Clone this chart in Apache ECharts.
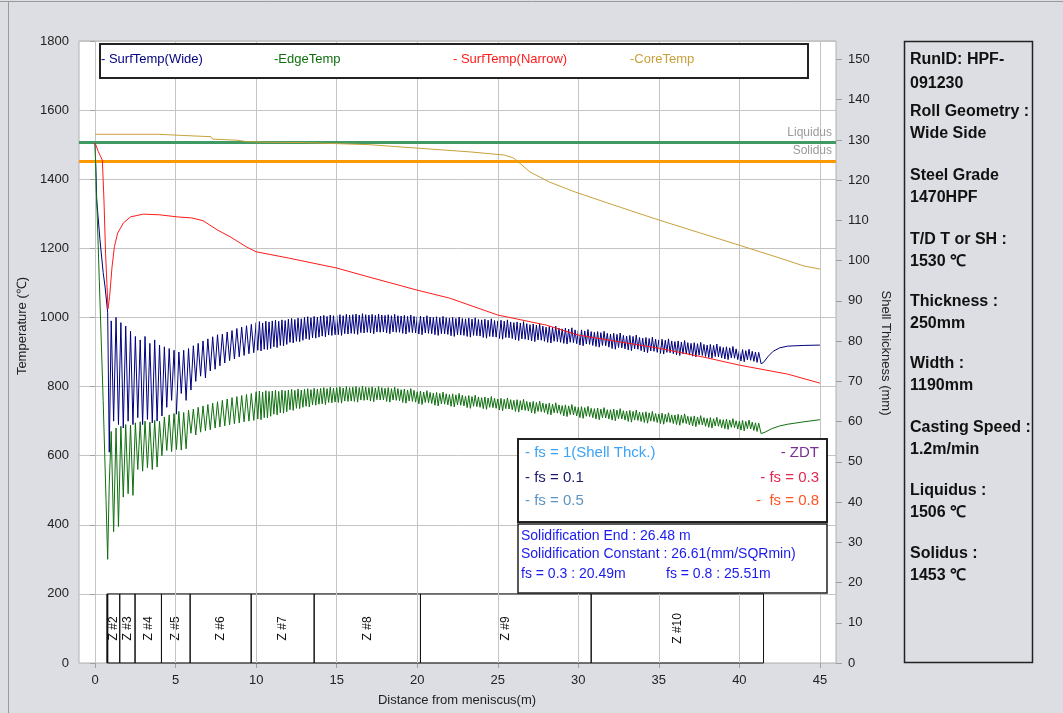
<!DOCTYPE html>
<html><head><meta charset="utf-8">
<script src="https://cdn.jsdelivr.net/npm/echarts@6/dist/echarts.min.js"></script>
<style>html,body{margin:0;padding:0;background:#dcdee3}#c{width:1063px;height:713px}</style>
</head><body><div id="c"></div>
<script>
// ---------- data ----------
const xTicks = [0,5,10,15,20,25,30,35,40,45];
const shellTicks = [0,10,20,30,40,50,60,70,80,90,100,110,120,130,140,150];
const liquidus = 1506;
const solidus = 1453;

const toothXEarly = [1,1.15,1.3,1.45,1.6,1.75,1.9,2.05,2.2,2.35,
 2.5,2.65,2.8,2.95,3.1,3.25,3.4,3.55,3.7,3.85,
 4,4.15,4.3,4.45,4.6,4.75,4.9,5.05,5.2,5.35,
 5.5,5.65,5.8,5.95,6.1,6.25,6.4,6.55,6.7,6.85,
 7,7.15,7.3,7.45,7.6,7.75,7.9,8.05,8.2,8.35,
 8.5,8.65,8.8,8.95,9.1,9.25,9.4,9.55,9.7,9.85];
const toothXLate = [
 10,10.1,10.2,10.3,10.4,10.5,10.6,10.7,10.8,10.9,
 11,11.1,11.2,11.3,11.4,11.5,11.6,11.7,11.8,11.9,
 12,12.1,12.2,12.3,12.4,12.5,12.6,12.7,12.8,12.9,
 13,13.1,13.2,13.3,13.4,13.5,13.6,13.7,13.8,13.9,
 14,14.1,14.2,14.3,14.4,14.5,14.6,14.7,14.8,14.9,
 15,15.1,15.2,15.3,15.4,15.5,15.6,15.7,15.8,15.9,
 16,16.1,16.2,16.3,16.4,16.5,16.6,16.7,16.8,16.9,
 17,17.1,17.2,17.3,17.4,17.5,17.6,17.7,17.8,17.9,
 18,18.1,18.2,18.3,18.4,18.5,18.6,18.7,18.8,18.9,
 19,19.1,19.2,19.3,19.4,19.5,19.6,19.7,19.8,19.9,
 20,20.1,20.2,20.3,20.4,20.5,20.6,20.7,20.8,20.9,
 21,21.1,21.2,21.3,21.4,21.5,21.6,21.7,21.8,21.9,
 22,22.1,22.2,22.3,22.4,22.5,22.6,22.7,22.8,22.9,
 23,23.1,23.2,23.3,23.4,23.5,23.6,23.7,23.8,23.9,
 24,24.1,24.2,24.3,24.4,24.5,24.6,24.7,24.8,24.9,
 25,25.1,25.2,25.3,25.4,25.5,25.6,25.7,25.8,25.9,
 26,26.1,26.2,26.3,26.4,26.5,26.6,26.7,26.8,26.9,
 27,27.1,27.2,27.3,27.4,27.5,27.6,27.7,27.8,27.9,
 28,28.1,28.2,28.3,28.4,28.5,28.6,28.7,28.8,28.9,
 29,29.1,29.2,29.3,29.4,29.5,29.6,29.7,29.8,29.9,
 30,30.1,30.2,30.3,30.4,30.5,30.6,30.7,30.8,30.9,
 31,31.1,31.2,31.3,31.4,31.5,31.6,31.7,31.8,31.9,
 32,32.1,32.2,32.3,32.4,32.5,32.6,32.7,32.8,32.9,
 33,33.1,33.2,33.3,33.4,33.5,33.6,33.7,33.8,33.9,
 34,34.1,34.2,34.3,34.4,34.5,34.6,34.7,34.8,34.9,
 35,35.1,35.2,35.3,35.4,35.5,35.6,35.7,35.8,35.9,
 36,36.1,36.2,36.3,36.4,36.5,36.6,36.7,36.8,36.9,
 37,37.1,37.2,37.3,37.4,37.5,37.6,37.7,37.8,37.9,
 38,38.1,38.2,38.3,38.4,38.5,38.6,38.7,38.8,38.9,
 39,39.1,39.2,39.3,39.4,39.5,39.6,39.7,39.8,39.9,
 40,40.1,40.2,40.3,40.4,40.5,40.6,40.7,40.8,40.9,
 41,41.1,41.2];

// SurfTemp(Wide)
const wideHead = [[0,1505],[0.1,1340],[0.3,1225],[0.5,1130],[0.62,1088],[0.78,1015],[0.88,610]];
const wideEarly = [990,700,1000,690,985,680,975,700,960,690,
 945,710,935,690,945,705,925,695,935,700,
 920,715,915,740,910,760,905,720,900,780,
 905,760,910,790,918,815,925,830,932,825,
 938,845,944,850,950,860,952,868,958,875,
 962,880,968,886,972,890,976,895,980,898];
const wideLate = [
 985,905,988,903,984,908,989,907,987,910,
 990,915,992,913,989,919,993,918,991,922,
 995,928,997,926,994,931,998,930,996,934,
 1000,938,1002,936,999,941,1003,940,1001,943,
 1004,946,1006,944,1003,949,1007,948,1005,950,
 1006,950,1008,948,1005,953,1009,952,1007,954,
 1008,953,1010,951,1007,956,1011,955,1008,957,
 1007,955,1009,953,1006,958,1010,957,1007,958,
 1006,955,1008,953,1005,958,1009,957,1005,957,
 1004,954,1006,952,1003,957,1007,956,1003,955,
 1002,952,1004,950,1001,955,1005,954,1001,953,
 1000,950,1002,948,999,953,1003,952,999,951,
 998,947,1000,945,997,950,1001,949,997,948,
 996,945,998,943,995,948,999,947,994,946,
 993,942,995,940,992,945,996,944,991,943,
 990,939,992,937,989,942,993,941,987,939,
 985,935,987,933,984,938,988,937,982,935,
 979,932,981,930,978,935,982,934,975,931,
 972,928,974,926,971,931,975,930,969,928,
 967,925,969,923,966,928,970,927,964,924,
 962,920,964,918,961,923,965,922,959,919,
 957,916,959,914,956,919,960,918,954,914,
 952,910,954,908,951,913,955,912,948,909,
 946,906,948,904,945,909,949,908,942,904,
 940,900,942,898,939,903,943,902,937,899,
 935,896,937,894,934,899,938,898,932,895,
 930,892,932,890,929,895,933,894,927,891,
 925,888,927,886,924,891,928,890,922,887,
 920,884,922,882,919,887,923,886,916,883,
 913,880,915,878,912,883,916,882,909,878,
 905,874,907,872,904,877,908,876,902,873,
 900,870,899];
const wideTail = [[41.35,866],[41.5,870],[41.8,888],[42.1,902],[42.5,912],[43,917],[44,919],[45,920]];

// EdgeTemp
const edgeHead = [[0,1505],[0.06,1380],[0.12,1310],[0.3,1050],[0.5,760],[0.68,470],[0.78,300],[0.88,520]];
const edgeEarly = [670,380,680,395,685,480,690,490,688,485,
 695,560,698,555,700,565,697,560,702,567,
 700,600,712,615,718,612,722,618,728,616,
 725,620,732,665,735,660,740,668,744,672,
 748,675,752,680,756,683,760,686,764,689,
 768,692,771,695,774,698,777,700,780,702];
const edgeLate = [
 785,706,787,704,784,710,788,709,786,714,
 787,720,789,718,786,724,790,723,788,727,
 790,733,792,731,789,737,793,736,790,740,
 792,743,794,741,791,747,795,746,793,749,
 795,750,797,748,794,754,798,753,795,755,
 797,754,799,752,796,758,800,757,797,758,
 798,757,800,755,797,761,801,760,798,761,
 797,758,799,756,796,762,800,761,797,761,
 795,757,797,755,794,761,798,760,794,759,
 791,754,793,752,790,758,794,757,789,755,
 785,750,787,748,784,754,788,753,783,751,
 781,746,783,744,780,750,784,749,779,747,
 777,743,779,741,776,747,780,746,775,744,
 772,739,774,737,771,743,775,742,770,740,
 768,736,770,734,767,740,771,739,766,737,
 764,732,766,730,763,736,767,735,762,733,
 760,728,762,726,759,732,763,731,757,729,
 755,724,757,722,754,728,758,727,752,725,
 750,720,752,718,749,724,753,723,747,720,
 745,715,747,713,744,719,748,718,742,715,
 740,710,742,708,739,714,743,713,737,710,
 736,706,738,704,735,710,739,709,733,706,
 733,703,735,701,732,707,736,706,730,703,
 729,699,731,697,728,703,732,702,726,699,
 725,696,727,694,724,700,728,699,722,696,
 721,693,723,691,720,697,724,696,718,693,
 718,690,720,688,717,694,721,693,714,689,
 713,686,715,684,712,690,716,689,710,685,
 708,682,710,680,707,686,711,685,705,681,
 704,678,706,676,703,682,707,681,701,677,
 700,674,702,672,699,678,703,677,697,673,
 695,670,694];
const edgeTail = [[41.35,664],[41.6,668],[42,678],[42.5,686],[43,691],[44,698],[45,704]];

// SurfTemp(Narrow)
const narrowData = [[0,1505],[0.2,1480],[0.45,1455],[0.55,1340],[0.65,1186],[0.8,1025],[0.9,1060],
 [1.05,1146],[1.2,1205],[1.4,1244],[1.75,1273],[2.2,1291],[3,1299],[4,1297],[5.1,1291],[6,1288],
 [6.7,1280],[7.6,1253],[8.4,1233],[9.4,1204],[10,1190],[12,1172],[15,1143],[17,1117],[20,1079],
 [22,1056],[25,1007],[28,978],[30,949],[33,926],[35,911],[38,883],[40,862],[43,836],[45,810]];

// CoreTemp
const coreData = [[0,1530],[3.9,1530],[4.0,1526],[7.2,1523],[7.3,1516],[8.8,1513],[9.4,1509],
 [10.6,1507],[13,1506],[17,1500],[20,1490],[23.3,1479],[25.4,1470],[26.0,1461],[27,1421],
 [28.2,1392],[29.8,1363],[32.6,1319],[35,1282],[37.6,1244],[40,1209],[42.5,1172],[44,1149],[45,1140]];

// cooling zones
const zoneStart = [0.76,1.53,2.48,4.12,5.9,9.69,13.6,20.2,30.8];
const zoneEnd   = [1.53,2.48,4.12,5.9,9.69,13.6,20.2,30.8,41.5];
const zoneNames = ['Z #2','Z #3','Z #4','Z #5','Z #6','Z #7','Z #8','Z #9','Z #10'];
const zoneTopTemp = 200;

const panelLines = ['RunID: HPF-','091230','Roll Geometry :','Wide Side','Steel Grade','1470HPF',
 'T/D T or SH :','1530 ℃','Thickness :','250mm','Width :','1190mm','Casting Speed :','1.2m/min',
 'Liquidus :','1506 ℃','Solidus :','1453 ℃'];
const panelY = [60,84,112,134,176,198,240,262,302,324,364,386,428,450,491,513,554,576];

// ---------- build ----------
const FONT = '"Liberation Sans", Arial, sans-serif';
function teeth(xs, vs){ return xs.map((x,i)=>[x, vs[i]]); }
const wideData = wideHead.concat(teeth(toothXEarly, wideEarly), teeth(toothXLate, wideLate), wideTail);
const edgeData = edgeHead.concat(teeth(toothXEarly, edgeEarly), teeth(toothXLate, edgeLate), edgeTail);

const chart = echarts.init(document.getElementById('c'), null, {renderer:'canvas'});

function txt(x, y, text, color, size, extra){
  return Object.assign({type:'text', x:x, y:y, z:100, silent:true,
    style:Object.assign({text:text, fill:color, fontSize:size, fontFamily:FONT,
      align:'left', verticalAlign:'middle', textAlign:'left', textVerticalAlign:'middle'}, (extra||{}).style||{})},
    (extra||{}).el||{});
}

const graphics = [
  {type:'line', z:100, silent:true, shape:{x1:0,y1:1.5,x2:1063,y2:1.5}, style:{stroke:'#9a9a9a',lineWidth:1}},
  {type:'line', z:100, silent:true, shape:{x1:8.5,y1:1,x2:8.5,y2:713}, style:{stroke:'#9a9a9a',lineWidth:1}},
  // legend box
  {type:'rect', z:100, silent:true, shape:{x:100,y:44,width:708,height:34}, style:{fill:'#fff',stroke:'#222',lineWidth:2}},
  txt(101,59,'- SurfTemp(Wide)','#00007f',13),
  txt(274,59,'-EdgeTemp','#107010',13),
  txt(453,59,'- SurfTemp(Narrow)','#ff1a1a',13),
  txt(630,59,'-CoreTemp','#c9a13b',13),
  // right panel
  {type:'rect', z:100, silent:true, shape:{x:904.5,y:41.5,width:128,height:621}, style:{fill:'none',stroke:'#222',lineWidth:1.5}},
  // info box 1
  {type:'rect', z:100, silent:true, shape:{x:518,y:439,width:309,height:83}, style:{fill:'#fff',stroke:'#222',lineWidth:2}},
  txt(525,453,'- fs = 1(Shell Thck.)','#3ba2f5',15),
  txt(819,453,'- ZDT','#7a2f96',15,{style:{align:'right',textAlign:'right'}}),
  txt(525,478,'- fs = 0.1','#1c1c6e',15),
  txt(819,478,'- fs = 0.3','#e0284f',15,{style:{align:'right',textAlign:'right'}}),
  txt(525,501,'- fs = 0.5','#5b94c4',15),
  txt(819,501,'-  fs = 0.8','#ff5522',15,{style:{align:'right',textAlign:'right'}}),
  // info box 2
  {type:'rect', z:100, silent:true, shape:{x:518,y:524,width:309,height:69}, style:{fill:'#fff',stroke:'#222',lineWidth:1.5}},
  txt(521,536,'Solidification End : 26.48 m','#1a1aee',14),
  txt(521,554,'Solidification Constant : 26.61(mm/SQRmin)','#1a1aee',14),
  txt(521,574,'fs = 0.3 : 20.49m','#1a1aee',14),
  txt(666,574,'fs = 0.8 : 25.51m','#1a1aee',14),
  // axis titles
  txt(457,700,'Distance from meniscus(m)','#222',13,{style:{align:'center',textAlign:'center'}}),
  txt(22,326,'Temperature (℃)','#222',13,{style:{align:'center',textAlign:'center'},el:{rotation:Math.PI/2}}),
  txt(886,353,'Shell Thickness (mm)','#222',13,{style:{align:'center',textAlign:'center'},el:{rotation:-Math.PI/2}})
];
panelLines.forEach((t,i)=>{ graphics.push(txt(910, panelY[i], t, '#111', 16, {style:{fontWeight:'bold'}})); });

const plain = v => String(v);
const option = {
  animation:false,
  backgroundColor:'#dcdee3',
  grid:{left:79, top:41, right:227, bottom:50, show:true, backgroundColor:'#fff', borderColor:'#b0b0b0', borderWidth:1},
  xAxis:{type:'value', min:-1, max:46,
    axisLine:{show:false}, splitLine:{show:false},
    axisTick:{show:true, customValues:xTicks, length:5, lineStyle:{color:'#a0a0a0'}},
    axisLabel:{customValues:xTicks, formatter:plain, color:'#222', fontSize:13, fontFamily:FONT, margin:11}},
  yAxis:[
    {type:'value', min:0, max:1800, interval:200,
     axisLine:{show:false}, axisTick:{show:true, length:5, lineStyle:{color:'#a0a0a0'}},
     axisLabel:{formatter:plain, color:'#222', fontSize:13, fontFamily:FONT, margin:10},
     splitLine:{show:true, lineStyle:{color:'#c4c4c4', width:1}}},
    {type:'value', position:'right', min:0, max:154.6,
     axisLine:{show:false}, splitLine:{show:false},
     axisTick:{show:true, customValues:shellTicks, length:6, lineStyle:{color:'#a0a0a0'}},
     axisLabel:{customValues:shellTicks, formatter:plain, color:'#222', fontSize:13, fontFamily:FONT, margin:12}}
  ],
  series:[
    {type:'line', data:[], silent:true, z:1,
     markLine:{silent:true, symbol:'none', animation:false, emphasis:{disabled:true},
       label:{show:false}, lineStyle:{color:'#c4c4c4', width:1, type:'solid'},
       data: xTicks.map(v=>({xAxis:v}))}},
    {type:'custom', silent:true, z:3, clip:false,
     data: zoneStart.map((s,i)=>[s, zoneEnd[i]]),
     encode:{x:[0,1]},
     renderItem:function(params, api){
       const p0 = api.coord([api.value(0), zoneTopTemp]);
       const p1 = api.coord([api.value(1), 0]);
       const ch = [
         {type:'rect', shape:{x:p0[0], y:p0[1], width:p1[0]-p0[0], height:p1[1]-p0[1]}, style:{fill:'none', stroke:'#111', lineWidth:1}},
         {type:'text', x:(p0[0]+p1[0])/2, y:(p0[1]+p1[1])/2, rotation:Math.PI/2,
          style:{text:zoneNames[params.dataIndex], fill:'#111', fontSize:12, fontFamily:FONT, align:'center', verticalAlign:'middle'}}
       ];
       if (params.dataIndex === 0) ch.push({type:'line', shape:{x1:p0[0], y1:p0[1], x2:p0[0], y2:p1[1]}, style:{stroke:'#111', lineWidth:2}});
       return {type:'group', children:ch};
     }},
    {name:'SurfTemp(Wide)', type:'line', data:wideData, showSymbol:false, symbol:'none', silent:true, z:4,
     lineStyle:{color:'#00007f', width:1}},
    {name:'EdgeTemp', type:'line', data:edgeData, showSymbol:false, symbol:'none', silent:true, z:5,
     lineStyle:{color:'#107010', width:1}},
    {name:'SurfTemp(Narrow)', type:'line', data:narrowData, showSymbol:false, symbol:'none', silent:true, z:6,
     lineStyle:{color:'#ff1a1a', width:1}},
    {name:'CoreTemp', type:'line', data:coreData, showSymbol:false, symbol:'none', silent:true, z:6,
     lineStyle:{color:'#c9a13b', width:1}},
    {type:'line', data:[], silent:true, z:8,
     markLine:{silent:true, symbol:'none', animation:false, emphasis:{disabled:true},
       label:{show:true, position:'insideEndTop', color:'#9a9a9a', fontSize:12, fontFamily:FONT, distance:4},
       data:[
         {yAxis:liquidus, lineStyle:{color:'#3f9a63', width:3, type:'solid'}, label:{formatter:'Liquidus'}},
         {yAxis:solidus, lineStyle:{color:'#ff9900', width:3, type:'solid'}, label:{formatter:'Solidus'}}
       ]}}
  ],
  graphic:{elements:graphics}
};
chart.setOption(option);
</script></body></html>
